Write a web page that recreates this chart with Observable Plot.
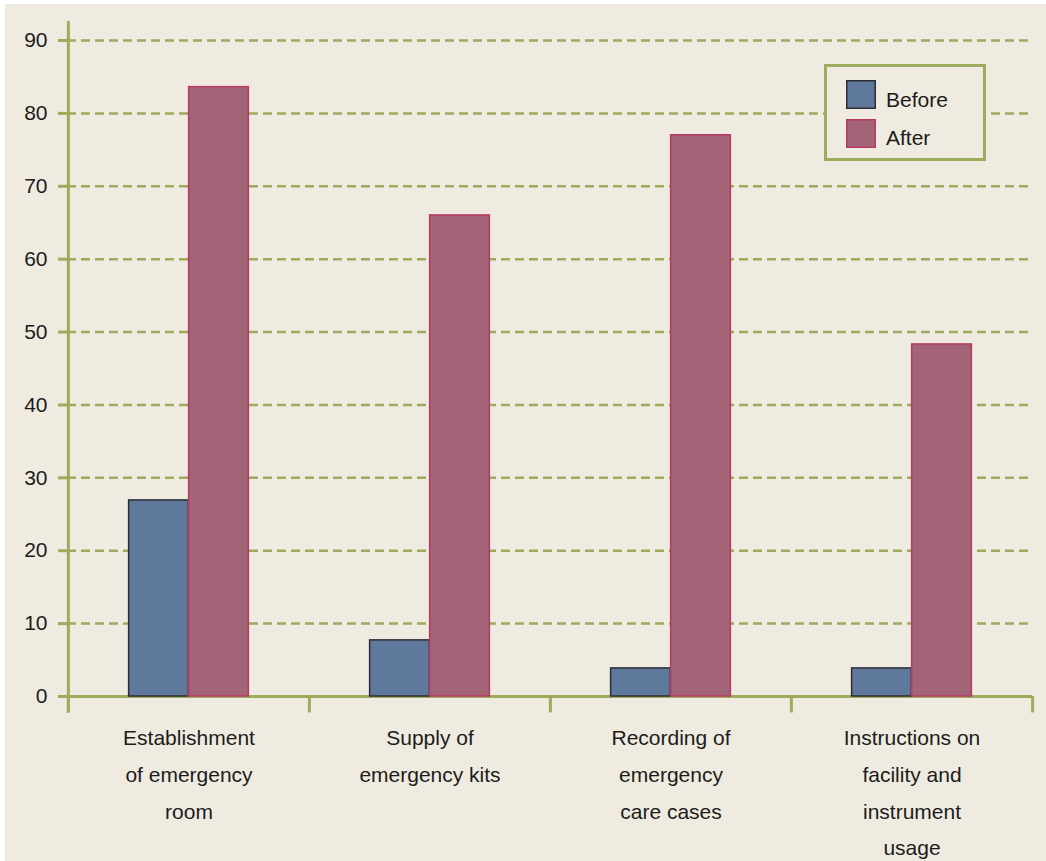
<!DOCTYPE html>
<html>
<head>
<meta charset="utf-8">
<script src="https://cdn.jsdelivr.net/npm/d3@7"></script>
<script src="https://cdn.jsdelivr.net/npm/@observablehq/plot@0.6"></script>
<style>
html, body { margin: 0; padding: 0; background: #ffffff; }
#wrap { position: relative; width: 1046px; height: 861px; overflow: hidden; font-family: "Liberation Sans", Arial, Helvetica, sans-serif; }
#bg { position: absolute; left: 5px; top: 4px; right: 0; bottom: 0; background: #efebe0; }
#chart { position: absolute; left: 0; top: 0; }
#legend { position: absolute; left: 824px; top: 64px; }
</style>
</head>
<body>
<div id="wrap">
  <div id="bg"></div>
  <div id="chart"></div>
  <div id="legend"></div>
</div>
<script>
// ---- data ----
const categories = [
  "Establishment of emergency room",
  "Supply of emergency kits",
  "Recording of emergency care cases",
  "Instructions on facility and instrument usage"
];
const tickLabels = [
  "Establishment\nof emergency\nroom",
  "Supply of\nemergency kits",
  "Recording of\nemergency\ncare cases",
  "Instructions on\nfacility and\ninstrument\nusage"
];
const series = ["Before", "After"];
const before = [26.9, 7.7, 3.85, 3.85];
const after = [83.6, 66.0, 77.0, 48.3];
const yTicks = [0, 10, 20, 30, 40, 50, 60, 70, 80, 90];

// ---- styles ----
const green = "#9cab5c";
const fills = ["#5e799c", "#a36478"];
const strokes = ["#2c2c33", "#b63a63"];
const textColor = "#1c1c1c";
const font = "'Liberation Sans', Arial, Helvetica, sans-serif";

const width = 1046, height = 861;
const mL = 67, mR = 14, mT = 40, mB = 165;
const bw = (width - mL - mR) / categories.length;
const barW = 60;

const plot = Plot.plot({
  width, height,
  marginLeft: mL, marginRight: mR, marginTop: mT, marginBottom: mB,
  x: { domain: categories, padding: 0, axis: null },
  y: { domain: [0, 90], axis: null },
  style: {
    background: "transparent",
    fontFamily: font,
    fontSize: "21px",
    color: textColor,
    overflow: "visible"
  },
  marks: [
    // dashed gridlines
    Plot.ruleY(yTicks.filter(d => d > 0), { stroke: green, strokeWidth: 2.5, strokeDasharray: "9,5" }),
    // y ticks (outward) and labels
    Plot.axisY(yTicks, { tickSize: 9, text: null, stroke: green, strokeWidth: 3, label: null }),
    Plot.text(yTicks, { y: d => d, frameAnchor: "left", dx: -20, textAnchor: "end", fontSize: 21, fill: textColor }),
    // baseline
    Plot.ruleY([0], { stroke: green, strokeWidth: 3 }),
    // bars
    Plot.barY(categories, {
      x: d => d, y: (d, i) => before[i],
      fill: fills[0], stroke: strokes[0], strokeWidth: 1.5,
      insetLeft: bw / 2 - barW, insetRight: bw / 2
    }),
    Plot.barY(categories, {
      x: d => d, y: (d, i) => after[i],
      fill: fills[1], stroke: strokes[1], strokeWidth: 1.5,
      insetLeft: bw / 2, insetRight: bw / 2 - barW
    }),
    // vertical axis line (extends past the data range)
    Plot.ruleX([categories[0]], { x: d => d, y1: -2.25, y2: 92.6, dx: -bw / 2, stroke: green, strokeWidth: 3 }),
    // category boundary ticks
    Plot.ruleX(categories, { x: d => d, y1: 0, y2: -2.25, dx: -bw / 2, stroke: green, strokeWidth: 3 }),
    Plot.ruleX([categories[categories.length - 1]], { x: d => d, y1: 0, y2: -2.25, dx: bw / 2, stroke: green, strokeWidth: 3 }),
    // category labels
    Plot.text(categories, {
      x: d => d, y: () => 0, text: (d, i) => tickLabels[i],
      lineAnchor: "top", lineHeight: 1.74, fontSize: 21, dy: 23, fill: textColor
    })
  ]
});
document.getElementById("chart").appendChild(plot);

// ---- legend ----
const lg = d3.select("#legend").append("svg")
  .attr("width", 162).attr("height", 97)
  .style("font-family", font);
lg.append("rect").attr("x", 1.5).attr("y", 1.5).attr("width", 159).attr("height", 94)
  .attr("fill", "#efebe0").attr("stroke", green).attr("stroke-width", 3);
series.forEach((s, i) => {
  lg.append("rect").attr("x", 22.75).attr("y", 16.75 + i * 39).attr("width", 28.5).attr("height", 27.5)
    .attr("fill", fills[i]).attr("stroke", strokes[i]).attr("stroke-width", 1.5);
  lg.append("text").attr("x", 62).attr("y", 43 + i * 38).attr("font-size", 21).attr("fill", textColor).text(s);
});
</script>
</body>
</html>
